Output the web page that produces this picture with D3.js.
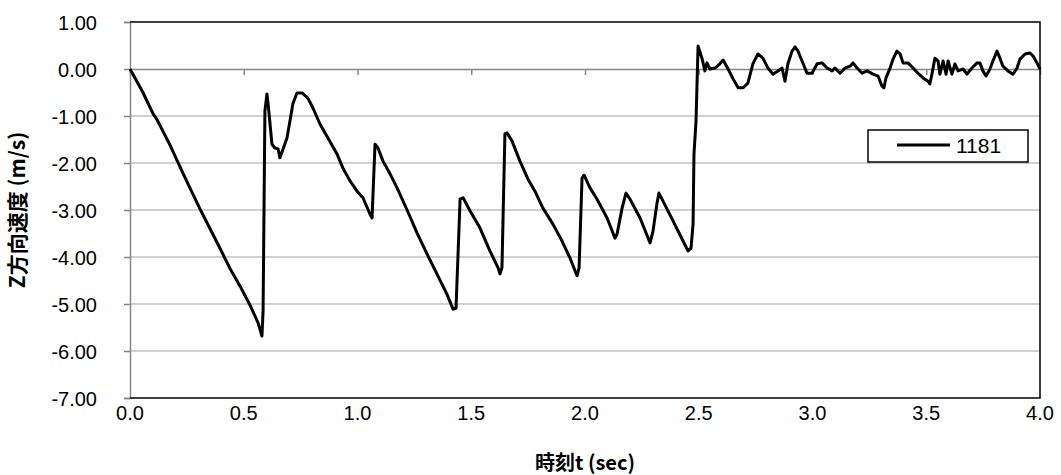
<!DOCTYPE html>
<html><head><meta charset="utf-8">
<script src="https://cdn.jsdelivr.net/npm/d3@7"></script>
<style>body{margin:0;background:#fff;} text{font-family:"Liberation Sans","Open Sans",sans-serif;}</style>
</head><body>
<svg id="c" width="1061" height="475"></svg>
<script>
const seriesName = "1181";
const times = [0,0.057,0.101,0.119,0.176,0.233,0.308,0.352,0.396,0.440,0.484,0.527,0.563,0.580,0.585,0.593,0.602,0.607,0.624,0.637,0.651,0.659,0.673,0.690,0.703,0.716,0.734,0.756,0.782,0.804,0.835,0.870,0.910,0.936,0.967,0.998,1.024,1.055,1.064,1.077,1.090,1.112,1.143,1.174,1.218,1.262,1.305,1.349,1.393,1.420,1.433,1.451,1.464,1.495,1.538,1.582,1.618,1.626,1.635,1.648,1.657,1.679,1.714,1.749,1.780,1.815,1.859,1.899,1.934,1.965,1.974,1.987,1.996,2.022,2.053,2.097,2.132,2.141,2.163,2.180,2.198,2.242,2.286,2.299,2.316,2.325,2.343,2.387,2.431,2.453,2.466,2.475,2.479,2.488,2.497,2.514,2.527,2.536,2.549,2.571,2.593,2.607,2.629,2.651,2.673,2.695,2.716,2.738,2.760,2.782,2.804,2.826,2.848,2.866,2.879,2.892,2.910,2.923,2.936,2.954,2.976,2.998,3.020,3.042,3.064,3.086,3.099,3.121,3.143,3.165,3.178,3.196,3.218,3.240,3.266,3.288,3.305,3.314,3.323,3.341,3.354,3.371,3.385,3.398,3.420,3.442,3.464,3.486,3.508,3.516,3.525,3.538,3.552,3.560,3.574,3.587,3.596,3.613,3.626,3.640,3.662,3.679,3.701,3.723,3.736,3.749,3.763,3.780,3.793,3.811,3.824,3.837,3.859,3.881,3.899,3.912,3.934,3.956,3.969,3.987,4.0];
const velocities = [0,-0.50,-0.95,-1.08,-1.62,-2.22,-2.98,-3.40,-3.82,-4.25,-4.62,-5.02,-5.40,-5.68,-5.15,-0.89,-0.53,-0.74,-1.60,-1.68,-1.70,-1.89,-1.70,-1.47,-1.11,-0.74,-0.51,-0.51,-0.62,-0.83,-1.17,-1.47,-1.81,-2.11,-2.38,-2.60,-2.74,-3.09,-3.17,-1.60,-1.68,-1.96,-2.23,-2.53,-3.00,-3.49,-3.93,-4.36,-4.79,-5.11,-5.09,-2.77,-2.74,-3.02,-3.38,-3.87,-4.23,-4.36,-4.23,-1.38,-1.36,-1.53,-1.96,-2.34,-2.60,-2.96,-3.30,-3.66,-4.02,-4.40,-4.23,-2.32,-2.26,-2.53,-2.77,-3.17,-3.60,-3.51,-2.96,-2.64,-2.77,-3.17,-3.70,-3.45,-2.87,-2.64,-2.81,-3.23,-3.66,-3.87,-3.81,-3.30,-1.81,-1.11,0.49,0.23,-0.04,0.13,0,0.02,0.11,0.19,0,-0.21,-0.40,-0.40,-0.30,0.11,0.32,0.23,0.02,-0.11,-0.04,0.02,-0.26,0.11,0.38,0.47,0.38,0.17,-0.09,-0.09,0.11,0.13,0.02,-0.04,0.02,-0.09,0.02,0.06,0.13,0.02,-0.09,-0.04,-0.11,-0.15,-0.36,-0.40,-0.19,0.02,0.21,0.38,0.32,0.13,0.13,0.02,-0.09,-0.19,-0.26,-0.32,-0.11,0.23,0.17,-0.11,0.17,-0.11,0.17,-0.11,0.11,-0.04,0,-0.11,0.02,0.13,0.13,-0.04,-0.15,0,0.17,0.38,0.23,0.06,-0.04,-0.11,0.02,0.21,0.32,0.34,0.28,0.13,0];
const xTicks = [0,0.5,1.0,1.5,2.0,2.5,3.0,3.5,4.0];
const yTicks = [1,0,-1,-2,-3,-4,-5,-6,-7];
const xTitle = "時刻t (sec)";
const yTitle = "Z方向速度 (m/s)";

const fmtY = d => d3.format(".2f")(d).replace("\u2212","-");
const fmtX = d => d3.format(".1f")(d);

const svg = d3.select("#c");
const L = 130, R = 1040, T = 22, B = 398;
const x = d3.scaleLinear().domain([0,4]).range([L,R]);
const y = d3.scaleLinear().domain([-7,1]).range([B,T]);

// gridlines
svg.append("g").selectAll("line").data(yTicks.filter(d=>d!==0 && d!==1 && d!==-7)).join("line")
  .attr("x1",L).attr("x2",R).attr("y1",d=>y(d)).attr("y2",d=>y(d))
  .attr("stroke","#c0c0c0").attr("stroke-width",1.5);

// left axis
const ya = svg.append("g").attr("transform",`translate(${L},0)`)
  .call(d3.axisLeft(y).tickValues(yTicks).tickFormat(fmtY).tickSize(6).tickPadding(27));
ya.select(".domain").attr("stroke","#868686").attr("stroke-width",1.5);
ya.selectAll(".tick line").attr("stroke","#868686").attr("stroke-width",1.5);
ya.selectAll("text").attr("font-size",20).attr("fill","#000").attr("dy","0.35em")
  .style("font-family","'Liberation Sans',sans-serif");

// zero axis with ticks
const xa = svg.append("g").attr("transform",`translate(0,${y(0)})`)
  .call(d3.axisBottom(x).tickValues(xTicks).tickFormat("").tickSize(6).tickSizeOuter(0));
xa.select(".domain").attr("stroke","#868686").attr("stroke-width",1.5);
xa.selectAll(".tick line").attr("stroke","#868686").attr("stroke-width",1.5);

// x tick labels at bottom
svg.append("g").selectAll("text").data(xTicks).join("text")
  .attr("x",d=>x(d)).attr("y",B+22).attr("text-anchor","middle")
  .attr("font-size",20).text(fmtX);

// border top/right/bottom
svg.append("path").attr("d",`M${L},${T}H${R}V${B}H${L}`).attr("fill","none")
  .attr("stroke","#000").attr("stroke-width",1.5);

// data line
const data = times.map((t,i)=>[t,velocities[i]]);
svg.append("path").datum(data)
  .attr("d",d3.line().x(d=>x(d[0])).y(d=>y(d[1])))
  .attr("fill","none").attr("stroke","#000").attr("stroke-width",3).attr("stroke-linejoin","round");

// titles
svg.append("text").attr("x",585).attr("y",470).attr("text-anchor","middle")
  .attr("font-size",20).attr("font-weight","bold")
  .style("font-family","'Noto Sans CJK JP',sans-serif").text(xTitle);
svg.append("text").attr("transform",`translate(25,${(T+B)/2}) rotate(-90)`).attr("text-anchor","middle")
  .attr("font-size",21).attr("font-weight","bold")
  .style("font-family","'Noto Sans CJK JP',sans-serif").text(yTitle);

// legend
const lg = svg.append("g");
lg.append("rect").attr("x",868).attr("y",130).attr("width",160).attr("height",32)
  .attr("fill","#fff").attr("stroke","#000").attr("stroke-width",1.5);
lg.append("line").attr("x1",897).attr("x2",950).attr("y1",145).attr("y2",145)
  .attr("stroke","#000").attr("stroke-width",3);
lg.append("text").attr("x",956).attr("y",153).attr("font-size",21).text(seriesName);
</script>
</body></html>
